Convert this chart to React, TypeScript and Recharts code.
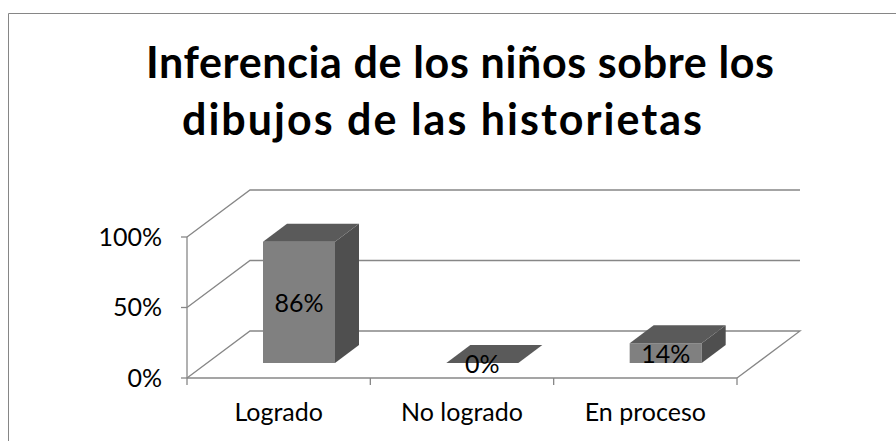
import React from 'react';
import { BarChart, Bar, XAxis, YAxis, CartesianGrid } from 'recharts';

const categories = ['Logrado', 'No logrado', 'En proceso'];
const values = [0.86, 0, 0.14];
const valueLabels = ['86%', '0%', '14%'];
const yTicks = [0, 0.5, 1];
const titleLines = ['Inferencia de los niños sobre los', 'dibujos de las historietas'];

const data = categories.map((c, i) => ({ name: c, value: values[i], label: valueLabels[i] }));

const W = 896;
const H = 441;
const DEPTH_X = 63;
const DEPTH_Y = -47;
const FRONT_SX = 20;
const FRONT_SY = -15;
const BAR_DX = 24;
const BAR_DY = -18;
const GRID = '#878787';
const FONT = 'Lato, "Open Sans", "DejaVu Sans", sans-serif';
const AXIS_FONT_SIZE = 25;

const gridLine = (props: any) => {
  const { x1, y1, x2, index } = props;
  const bottom = props.y + props.height;
  const by = y1 + DEPTH_Y;
  let d = `M${x1},${y1}L${x1 + DEPTH_X},${by}L${x2 + DEPTH_X},${by}`;
  if (Math.abs(y1 - bottom) < 0.5) d += `L${x2},${y1}`;
  return <path key={`g-${index}`} d={d} fill="none" stroke={GRID} strokeWidth={1.3} />;
};

const Bar3D = (props: any) => {
  const { x, y, width, height, payload } = props;
  const h = Math.max(height || 0, 0);
  const fx = x + FRONT_SX;
  const fy = y + FRONT_SY;
  const top = `${fx},${fy} ${fx + BAR_DX},${fy + BAR_DY} ${fx + width + BAR_DX},${fy + BAR_DY} ${fx + width},${fy}`;
  const side = `${fx + width},${fy} ${fx + width + BAR_DX},${fy + BAR_DY} ${fx + width + BAR_DX},${fy + h + BAR_DY} ${fx + width},${fy + h}`;
  return (
    <g>
      <rect x={fx} y={fy} width={width} height={h} fill="#808080" />
      <polygon points={side} fill="#4f4f4f" />
      <polygon points={top} fill="#5a5a5a" />
      <text
        x={fx + width / 2}
        y={fy + h / 2 + 10}
        textAnchor="middle"
        fontFamily={FONT}
        fontSize={AXIS_FONT_SIZE}
        fill="#000"
      >
        {payload.label}
      </text>
    </g>
  );
};

const XTick = (props: any) => {
  const { x, y, payload, index } = props;
  const band = payload && payload.offset ? payload.offset * 2 : props.width / categories.length;
  const half = band / 2;
  const isLast = index === categories.length - 1;
  return (
    <g>
      <line x1={x - half} y1={y} x2={x - half} y2={y + 7} stroke={GRID} strokeWidth={1.3} />
      {isLast && <line x1={x + half} y1={y} x2={x + half} y2={y + 7} stroke={GRID} strokeWidth={1.3} />}
      <text x={x} y={y + 43} textAnchor="middle" fontFamily={FONT} fontSize={AXIS_FONT_SIZE} fill="#000">
        {payload.value}
      </text>
    </g>
  );
};

export default function App() {
  return (
    <div
      style={{
        position: 'fixed',
        left: 0,
        top: 0,
        width: W,
        height: H,
        overflow: 'hidden',
        background: '#fff',
      }}
    >
      <svg width={W} height={H} style={{ position: 'absolute', left: 0, top: 0 }}>
        <path d={`M8.5,${H}L8.5,13.5L${W},13.5`} fill="none" stroke="#868686" strokeWidth={1} />
        <text
          x={460}
          y={78}
          textAnchor="middle"
          fontFamily={FONT}
          fontWeight="bold"
          fontSize={43}
          textLength={628}
          lengthAdjust="spacing"
          fill="#000"
        >
          {titleLines[0]}
        </text>
        <text
          x={442}
          y={135}
          textAnchor="middle"
          fontFamily={FONT}
          fontWeight="bold"
          fontSize={43}
          textLength={520}
          lengthAdjust="spacing"
          fill="#000"
        >
          {titleLines[1]}
        </text>
      </svg>
      <div style={{ position: 'absolute', left: 0, top: 0 }}>
        <BarChart
          width={W}
          height={H}
          data={data}
          margin={{ top: 237, right: W - 737, bottom: 23, left: 107 }}
          barSize={72}
        >
          <CartesianGrid vertical={false} horizontal={gridLine} stroke={GRID} />
          <XAxis
            dataKey="name"
            height={40}
            tick={<XTick />}
            tickLine={false}
            tickSize={0}
            tickMargin={0}
            axisLine={{ stroke: GRID, strokeWidth: 1.3 }}
            interval={0}
          />
          <YAxis
            width={80}
            domain={[0, 1]}
            ticks={yTicks}
            tickFormatter={(v: number) => `${Math.round(v * 100)}%`}
            tick={{ fontSize: AXIS_FONT_SIZE, fill: '#000', fontFamily: FONT }}
            tickSize={6}
            tickMargin={19}
            tickLine={{ stroke: GRID, strokeWidth: 1.3 }}
            axisLine={{ stroke: GRID, strokeWidth: 1.3 }}
            interval={0}
          />
          <Bar dataKey="value" shape={<Bar3D />} isAnimationActive={false} />
        </BarChart>
      </div>
    </div>
  );
}
